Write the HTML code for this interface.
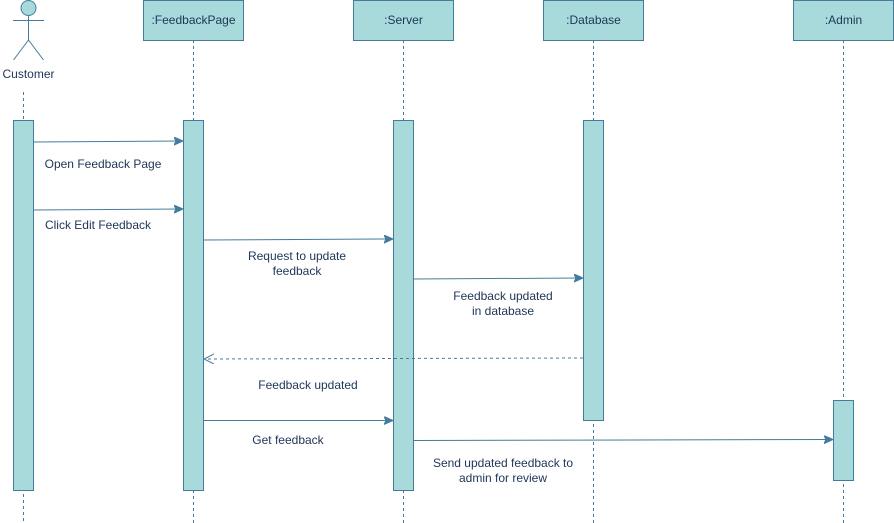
<!DOCTYPE html>
<html><head><meta charset="utf-8"><style>
html,body{margin:0;padding:0;background:#fff;}
svg{display:block;}
text{font-family:"Liberation Sans",sans-serif;font-size:12px;fill:#1d3557;}
</style></head><body>
<svg width="894" height="523" viewBox="0 0 894 523" xmlns="http://www.w3.org/2000/svg">
<defs>
<marker id="a" markerWidth="10" markerHeight="10" refX="8" refY="4" orient="auto" markerUnits="userSpaceOnUse"><path d="M0,0 L9,4 L0,8 L2,4 Z" fill="#457b9d" stroke="#457b9d"/></marker>
<marker id="o" markerWidth="12" markerHeight="12" refX="10" refY="5" orient="auto" markerUnits="userSpaceOnUse"><path d="M0,0 L10,5 L0,10" fill="none" stroke="#457b9d"/></marker>
</defs>
<g stroke="#457b9d" stroke-dasharray="3,3" fill="none">
<line x1="23.5" y1="92" x2="23.5" y2="523"/>
<line x1="193.5" y1="40" x2="193.5" y2="523"/>
<line x1="403.5" y1="40" x2="403.5" y2="523"/>
<line x1="593.5" y1="40" x2="593.5" y2="523"/>
<line x1="843.5" y1="40" x2="843.5" y2="523"/>
</g>
<g fill="#a8dadc" stroke="#457b9d">
<circle cx="28.5" cy="8" r="7.5"/>
<rect x="143.5" y="0.5" width="100" height="40"/>
<rect x="353.5" y="0.5" width="100" height="40"/>
<rect x="543.5" y="0.5" width="100" height="40"/>
<rect x="793.5" y="0.5" width="100" height="40"/>
<rect x="13.5" y="120.5" width="20" height="370"/>
<rect x="183.5" y="120.5" width="20" height="370"/>
<rect x="393.5" y="120.5" width="20" height="370"/>
<rect x="583.5" y="120.5" width="20" height="300"/>
<rect x="833.5" y="400.5" width="20" height="80"/>
</g>
<g stroke="#457b9d" fill="none">
<line x1="28.5" y1="15.5" x2="28.5" y2="40"/>
<line x1="13" y1="20.5" x2="44" y2="20.5"/>
<line x1="28.5" y1="40" x2="13.5" y2="60"/>
<line x1="28.5" y1="40" x2="43.5" y2="60"/>
<line x1="33" y1="142" x2="182" y2="141" marker-end="url(#a)"/>
<line x1="33" y1="210" x2="182" y2="209" marker-end="url(#a)"/>
<line x1="203" y1="240" x2="392" y2="239" marker-end="url(#a)"/>
<line x1="413" y1="279" x2="582" y2="278" marker-end="url(#a)"/>
<line x1="583" y1="358" x2="204" y2="359" stroke-dasharray="3,3" marker-end="url(#o)"/>
<line x1="203" y1="420.5" x2="392" y2="420.5" marker-end="url(#a)"/>
<line x1="413" y1="440.5" x2="832" y2="439.5" marker-end="url(#a)"/>
</g>
<g style="font-size:12.5px">
<text x="28.5" y="78" text-anchor="middle">Customer</text>
<text x="193.5" y="24" text-anchor="middle">:FeedbackPage</text>
<text x="403.5" y="24" text-anchor="middle">:Server</text>
<text x="593.5" y="24" text-anchor="middle">:Database</text>
<text x="843.5" y="24" text-anchor="middle">:Admin</text>
<text x="103" y="168" text-anchor="middle">Open Feedback Page</text>
<text x="98" y="229" text-anchor="middle">Click Edit Feedback</text>
<text x="297" y="260" text-anchor="middle">Request to update</text>
<text x="297" y="275" text-anchor="middle">feedback</text>
<text x="503" y="300" text-anchor="middle">Feedback updated</text>
<text x="503" y="315" text-anchor="middle">in database</text>
<text x="308" y="389" text-anchor="middle">Feedback updated</text>
<text x="288" y="444" text-anchor="middle">Get feedback</text>
<text x="503" y="467" text-anchor="middle">Send updated feedback to</text>
<text x="503" y="482" text-anchor="middle">admin for review</text>
</g>
</svg>
</body></html>
